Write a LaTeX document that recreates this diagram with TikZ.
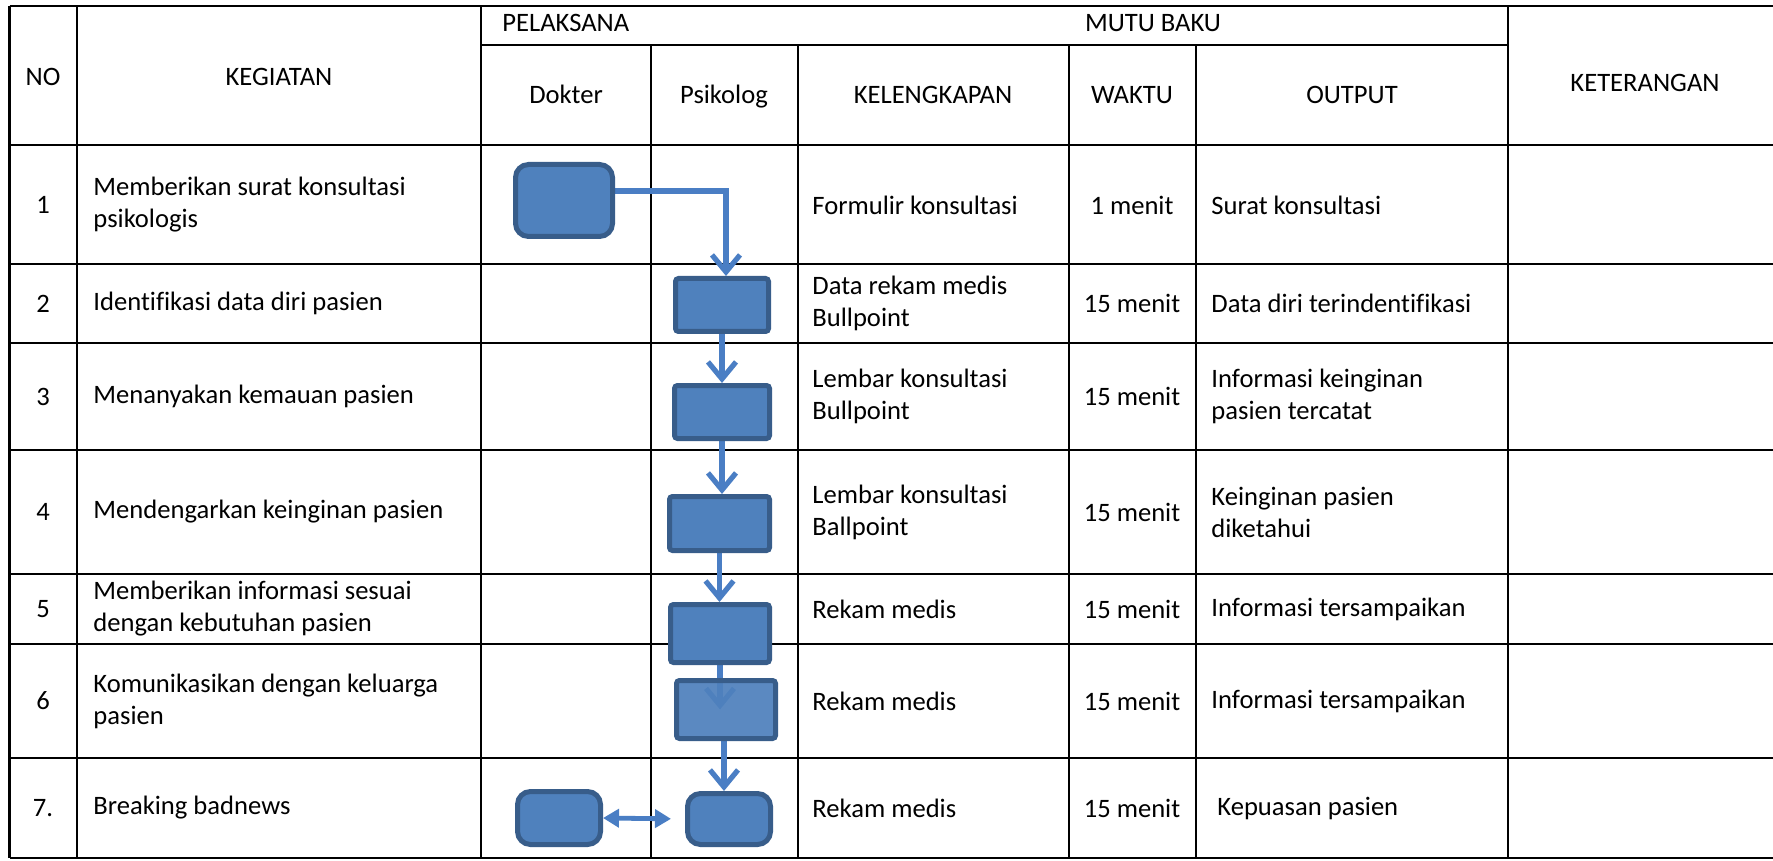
\documentclass[tikz,border=0pt]{standalone}
\usepackage{fontspec}
\setmainfont[Ligatures=NoCommon]{Carlito}
\usetikzlibrary{arrows.meta,backgrounds}
\definecolor{boxfill}{HTML}{4F81BD}
\definecolor{boxline}{HTML}{385D8A}
\definecolor{flowline}{HTML}{4A7EC4}

\begin{document}
\begin{tikzpicture}[x=0.5pt,y=-0.5pt,
        every node/.style={font=\fontsize{13.3}{16}\selectfont,inner sep=0pt},
        head/.style={text height=1.45ex,text depth=0pt},
        rule/.style={line width=1.4pt},
        txt/.style={anchor=west,align=left},
        mid/.style={align=center},
        procbox/.style={draw=boxline,fill=boxfill,line width=2.5pt,rounded corners=1.5pt},
        termbox/.style={procbox,rounded corners=6.5pt},
        flow/.style={flowline,line width=2.6pt,-{Straight Barb[length=8.5pt,width=14pt]}},
        twoway/.style={flowline,line width=2.4pt,{Triangle[length=8pt,width=9pt]}-{Triangle[length=8pt,width=9pt]}}]
        \useasboundingbox (0,0) rectangle (1773,861);

        % header
        \node[head] (hno) at (43,79) {NO};
        \node[head] (hkeg) at (279,79) {KEGIATAN};
        \node[head,anchor=west] (hpel) at (502,25) {PELAKSANA};
        \node[head] (hmutu) at (1153,25) {MUTU BAKU};
        \node[head] (hdok) at (566,97) {Dokter};
        \node[head] (hpsi) at (724,97) {Psikolog};
        \node[head] (hkel) at (933,97) {KELENGKAPAN};
        \node[head] (hwak) at (1132,97) {WAKTU};
        \node[head] (hout) at (1352,97) {OUTPUT};
        \node[head] (hket) at (1645,85) {KETERANGAN};

        % rows
        \foreach \i/\y/\n/\keg/\kel/\wak/\out in {
            1/205/1/{Memberikan surat konsultasi\\psikologis}/{Formulir konsultasi}/{1 menit}/{Surat konsultasi},
            2/303.5/2/{Identifikasi data diri pasien}/{Data rekam medis\\Bullpoint}/{15 menit}/{Data diri terindentifikasi},
            3/396.5/3/{Menanyakan kemauan pasien}/{Lembar konsultasi\\Bullpoint}/{15 menit}/{Informasi keinginan\\pasien tercatat},
            4/512/4/{Mendengarkan keinginan pasien}/{Lembar konsultasi\\Ballpoint}/{15 menit}/{Keinginan pasien\\diketahui},
            5/609/5/{Memberikan informasi sesuai\\dengan kebutuhan pasien}/{Rekam medis}/{15 menit}/{Informasi tersampaikan},
            6/701/6/{Komunikasikan dengan keluarga\\pasien}/{Rekam medis}/{15 menit}/{Informasi tersampaikan}}
        {
            \node[mid] (no\i) at (43,\y) {\n};
            \node[txt] (keg\i) at (93,\y) {\keg};
            \node[txt] (kel\i) at (812,\y) {\kel};
            \node[mid] (wak\i) at (1132,\y) {\wak};
            \node[txt] (out\i) at (1211,\y) {\out};
        }
        \node[mid] (no7) at (43,808) {7.};
        \node[txt] (keg7) at (93,808) {Breaking badnews};
        \node[txt] (kel7) at (812,808) {Rekam medis};
        \node[mid] (wak7) at (1132,808) {15 menit};
        \node[txt] (out7) at (1217,808) {Kepuasan pasien};

        % flow shapes
        \node[termbox,minimum width=48.5pt,minimum height=36pt] (b1) at (564,200.5) {};
        \node[procbox,minimum width=46.5pt,minimum height=26.5pt] (b2) at (722,305) {};
        \node[procbox,minimum width=47.5pt,minimum height=26.5pt] (b3) at (722,412) {};
        \node[procbox,minimum width=50pt,minimum height=27pt] (b4) at (719.5,523.5) {};
        \node[procbox,minimum width=49.5pt,minimum height=29pt] (b5) at (720,633.5) {};
        \node[procbox,minimum width=49.5pt,minimum height=29pt,fill opacity=0.93] (b6) at (726,709.5) {};
        \node[termbox,minimum width=41.5pt,minimum height=25.5pt] (b7) at (729,819) {};
        \node[termbox,minimum width=41.5pt,minimum height=26.5pt] (b7d) at (559,818) {};

        \begin{scope}[on background layer]
            \fill[white] (0,0) rectangle (1773,861);
            \draw[rule] (9.6,6) -- (1773,6);
            \foreach \y in {145,264,343,450,574,644,758,858}
                \draw[rule] (9.6,\y) -- (1773,\y);
            \draw[rule] (481,45) -- (1508,45);
            \foreach \x in {9.6,77,481,1508}
                \draw[rule] (\x,6) -- (\x,858);
            \foreach \x in {651,798,1069,1196}
                \draw[rule] (\x,45) -- (\x,858);

            \draw[flow] ([yshift=4.75pt]b1.east) -| ([xshift=2pt]b2.north);
            \draw[flow] (b2.south) -- (b3.north);
            \draw[flow] (b3.south) -- (b3.south |- b4.north);
            \draw[flow] (b4.south) -- (b4.south |- b5.north);
            \draw[flow] (b5.south) -- (b5.south |- b6.center);
            \draw[flow] ([xshift=-1pt]b6.south) -- ([xshift=-1pt]b6.south |- b7.north);
            \draw[twoway,shorten >=7pt] (b7d.east) -- (b7.west);
        \end{scope}
    \end{tikzpicture}
\end{document}
